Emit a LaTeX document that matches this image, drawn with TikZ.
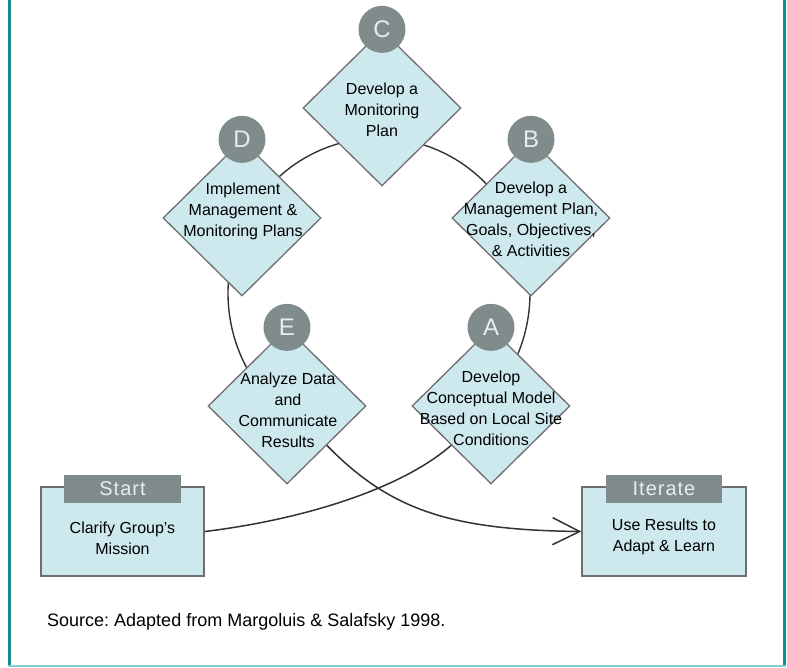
\documentclass[tikz,border=0pt]{standalone}
\usepackage{fontspec}
\setmainfont{Liberation Sans}
\usetikzlibrary{shapes.geometric,arrows.meta}
\frenchspacing
\definecolor{diafill}{HTML}{CDE9EE}
\definecolor{diaborder}{HTML}{6E6E6E}
\definecolor{badgefill}{HTML}{7F8C8B}
\definecolor{badgetext}{HTML}{E8ECEC}
\definecolor{linecol}{HTML}{333333}
\definecolor{frameteal}{HTML}{138A92}
\definecolor{framelight}{HTML}{86CFD0}
\tikzset{
  dia/.style={diamond, draw=diaborder, fill=diafill, line width=1.3pt, minimum width=158pt, minimum height=156pt, inner sep=0pt, aspect=1},
  dtext/.style={align=center, font=\fontsize{16}{21}\selectfont, text=black, inner sep=0pt},
  badge/.style={circle, fill=badgefill, minimum size=47pt, inner sep=0pt, text=badgetext, font=\fontsize{24}{24}\selectfont},
  mainbox/.style={rectangle, draw=diaborder, fill=diafill, line width=1.5pt, minimum width=163pt, minimum height=89pt, inner sep=0pt},
  tab/.style={rectangle, fill=badgefill, minimum width=117pt, minimum height=28pt, inner sep=0pt, text=badgetext, font=\fontsize{20}{20}\selectfont\addfontfeatures{LetterSpace=5}},
  conn/.style={draw=linecol, line width=1.5pt},
  loopline/.style={draw=linecol, line width=1.4pt}
}
\begin{document}
\begin{tikzpicture}[x=1pt,y=-1pt]
\useasboundingbox (0,0) rectangle (787,667);
% frame
\draw[frameteal, line width=3pt] (9.5,0) -- (9.5,666);
\draw[frameteal, line width=3pt] (784.5,0) -- (784.5,666);
\draw[framelight, line width=2pt] (8,665.5) -- (786,665.5);
% loop
\coordinate (loopc) at (379,293);
\draw[loopline] ([shift={(220:151pt and 155pt)}]loopc) arc[start angle=220, end angle=-40, x radius=151pt, y radius=155pt];
% boxes
\node[mainbox] (start) at (122.5,531.5) {};
\node[tab] (starttab) at (122.5,489) {Start};
\node[dtext] (starttext) at (122.5,538) {Clarify Group’s\\Mission};
\node[mainbox, minimum width=164pt] (iterate) at (664,531.5) {};
\node[tab, minimum width=116pt] (iteratetab) at (664,489) {Iterate};
\node[dtext] (iteratetext) at (664,537) {Use Results to\\Adapt \& Learn};
% diamonds
\node[dia] (C) at (382,108) {};
\node[dia] (D) at (242,218) {};
\node[dia] (B) at (531,218) {};
\node[dia] (E) at (287,406) {};
\node[dia] (A) at (491,406) {};
% curves
\draw[conn] (start.east) .. controls (300,520) and (400,490) .. (A.south west);
\draw[conn, -{Straight Barb[length=27pt,width=27pt,line width=1.5pt]}] (E.south east) .. controls (390,510) and (450,530) .. (iterate.west);
% texts
\node[dtext] (Ct) at (382,110) {Develop a\\Monitoring\\Plan};
\node[dtext] (Dt) at (243,211) {Implement\\Management \&\\Monitoring Plans};
\node[dtext] (Bt) at (531,219) {Develop a\\Management Plan,\\Goals, Objectives,\\\& Activities};
\node[dtext] (Et) at (288,410) {Analyze Data\\and\\Communicate\\Results};
\node[dtext] (At) at (491,408) {Develop\\Conceptual Model\\Based on Local Site\\Conditions};
% badges
\node[badge] (Cb) at (C.north) {C};
\node[badge] (Db) at (D.north) {D};
\node[badge] (Bb) at (B.north) {B};
\node[badge] (Eb) at (E.north) {E};
\node[badge] (Ab) at (A.north) {A};
% source
\node[anchor=west, inner sep=0pt, font=\fontsize{18}{18}\selectfont] (source) at (47,622) {Source: Adapted from Margoluis \& Salafsky 1998.};
\end{tikzpicture}
\end{document}
